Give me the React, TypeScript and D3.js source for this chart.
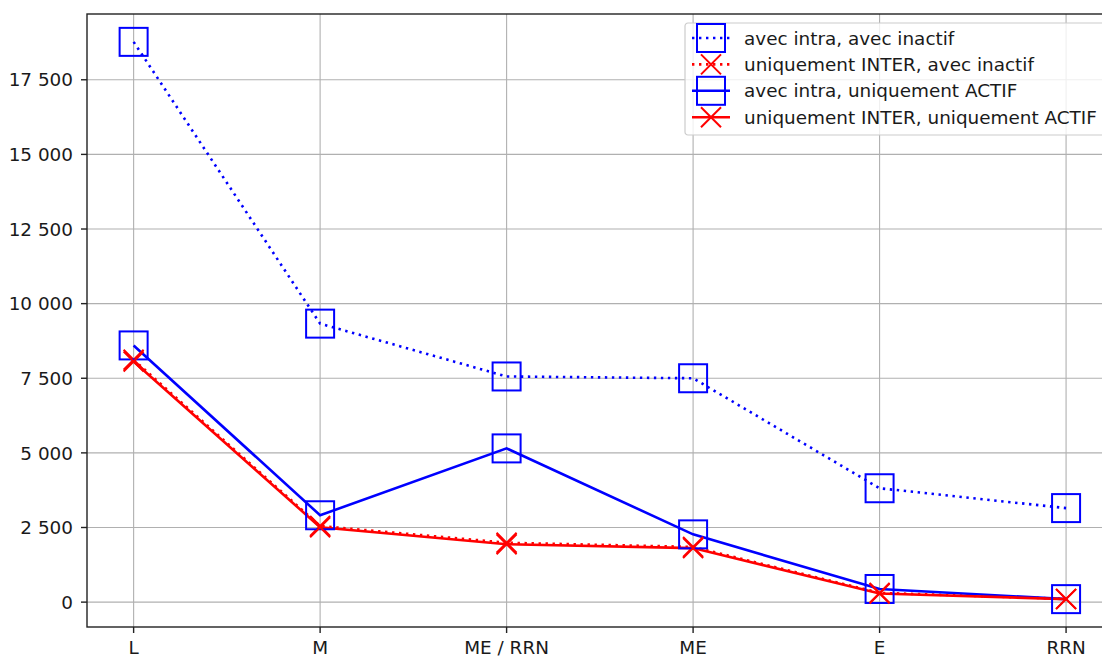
import { useEffect, useRef } from 'react'
import * as d3 from 'd3'

// categories on the x axis
const categories = ['L', 'M', 'ME / RRN', 'ME', 'E', 'RRN']

// values
const intraInactif = [18770, 9330, 7560, 7500, 3815, 3150]
const interInactif = [8120, 2550, 1990, 1850, 310, 110]
const intraActif = [8600, 2910, 5150, 2270, 440, 100]
const interActif = [8060, 2510, 1940, 1810, 290, 100]

const yTicks = [0, 2500, 5000, 7500, 10000, 12500, 15000, 17500]

const seriesList = [
  { label: 'avec intra, avec inactif', values: intraInactif, color: '#0000ff', dotted: true, marker: 'square' },
  { label: 'uniquement INTER, avec inactif', values: interInactif, color: '#ff0000', dotted: true, marker: 'x' },
  { label: 'avec intra, uniquement ACTIF', values: intraActif, color: '#0000ff', dotted: false, marker: 'square' },
  { label: 'uniquement INTER, uniquement ACTIF', values: interActif, color: '#ff0000', dotted: false, marker: 'x' },
]

const W = 1102
const H = 657

const App = () => {
  const svgRef = useRef<SVGSVGElement>(null)

  useEffect(() => {
    const svg = d3.select(svgRef.current)
    svg.selectAll('*').remove()

    const margin = { top: 14, left: 87, bottom: 627 }
    const font = 'DejaVu Sans, sans-serif'
    const fs = '18.4px'

    // x: index scale with matplotlib-like 0.25 padding
    const n = categories.length
    const xi = d3.scaleLinear().domain([-0.25, n - 1 + 0.25]).range([margin.left, 1112.7])
    const x = (i: number) => xi(i)

    const all = [...intraInactif, ...interInactif, ...intraActif, ...interActif]
    const lo = d3.min(all) as number
    const hi = d3.max(all) as number
    const pad = (hi - lo) * 0.05
    const y = d3.scaleLinear().domain([lo - pad, hi + pad]).range([margin.bottom, margin.top])

    const right = xi(n - 1 + 0.25)

    // grid
    const grid = svg.append('g')
    grid.selectAll('.gy').data(yTicks).enter().append('line')
      .attr('x1', margin.left).attr('x2', right)
      .attr('y1', (d) => y(d)).attr('y2', (d) => y(d))
      .attr('stroke', '#b0b0b0').attr('stroke-width', 1.1)
    grid.selectAll('.gx').data(categories).enter().append('line')
      .attr('x1', (_, i) => x(i)).attr('x2', (_, i) => x(i))
      .attr('y1', margin.top).attr('y2', margin.bottom)
      .attr('stroke', '#b0b0b0').attr('stroke-width', 1.1)

    // lines
    const line = d3.line<number>().x((_, i) => x(i)).y((d) => y(d))
    seriesList.forEach((s) => {
      svg.append('path')
        .attr('d', line(s.values))
        .attr('fill', 'none')
        .attr('stroke', s.color)
        .attr('stroke-width', 2.6)
        .attr('stroke-dasharray', s.dotted ? '2.4 4.6' : null)
    })

    // markers
    const half = 14
    const drawMarker = (g: any, kind: string, cx: number, cy: number, color: string) => {
      if (kind === 'square') {
        g.append('rect')
          .attr('x', cx - half).attr('y', cy - half)
          .attr('width', half * 2).attr('height', half * 2)
          .attr('fill', 'none').attr('stroke', color).attr('stroke-width', 2)
      } else {
        const h = 10
        g.append('path')
          .attr('d', `M${cx - h},${cy - h}L${cx + h},${cy + h}M${cx - h},${cy + h}L${cx + h},${cy - h}`)
          .attr('fill', 'none').attr('stroke', color).attr('stroke-width', 2)
      }
    }
    seriesList.forEach((s) => {
      const g = svg.append('g')
      s.values.forEach((v, i) => drawMarker(g, s.marker, x(i), y(v), s.color))
    })

    // spines
    svg.append('rect')
      .attr('x', margin.left).attr('y', margin.top)
      .attr('width', right - margin.left).attr('height', margin.bottom - margin.top)
      .attr('fill', 'none').attr('stroke', '#222').attr('stroke-width', 1.4)

    // y axis
    const fmt = d3.formatLocale({ decimal: ',', thousands: '\u00a0', grouping: [3], currency: ['', '€'] }).format(',d')
    const yAxis = svg.append('g')
    yTicks.forEach((t) => {
      yAxis.append('line')
        .attr('x1', margin.left - 6).attr('x2', margin.left)
        .attr('y1', y(t)).attr('y2', y(t))
        .attr('stroke', '#222').attr('stroke-width', 1.4)
      yAxis.append('text')
        .attr('x', margin.left - 14).attr('y', y(t))
        .attr('dy', '0.36em')
        .attr('text-anchor', 'end')
        .style('font-family', font).style('font-size', fs).style('fill', '#1a1a1a')
        .text(fmt(t))
    })

    // x axis
    const xAxis = svg.append('g')
    categories.forEach((c, i) => {
      xAxis.append('line')
        .attr('x1', x(i)).attr('x2', x(i))
        .attr('y1', margin.bottom).attr('y2', margin.bottom + 6)
        .attr('stroke', '#222').attr('stroke-width', 1.4)
      xAxis.append('text')
        .attr('x', x(i)).attr('y', 654)
        .attr('text-anchor', 'middle')
        .style('font-family', font).style('font-size', fs).style('fill', '#1a1a1a')
        .text(c)
    })

    // legend
    const lg = svg.append('g').attr('transform', 'translate(685,23)')
    lg.append('rect')
      .attr('width', 430).attr('height', 112).attr('rx', 3)
      .attr('fill', 'white').attr('fill-opacity', 0.8)
      .attr('stroke', '#cccccc').attr('stroke-width', 1.2)
    seriesList.forEach((s, i) => {
      const cy = 15 + i * 26.4
      lg.append('line')
        .attr('x1', 7).attr('x2', 45).attr('y1', cy).attr('y2', cy)
        .attr('stroke', s.color).attr('stroke-width', 2.6)
        .attr('stroke-dasharray', s.dotted ? '2.4 4.6' : null)
      drawMarker(lg, s.marker, 26, cy, s.color)
      lg.append('text')
        .attr('x', 59).attr('y', cy).attr('dy', '0.36em')
        .style('font-family', font).style('font-size', fs).style('fill', '#1a1a1a')
        .text(s.label)
    })
  }, [])

  return (
    <div style={{ position: 'absolute', left: 0, top: 0, width: W, height: H, overflow: 'hidden', background: 'white' }}>
      <svg ref={svgRef} width={W} height={H}></svg>
    </div>
  )
}

export default App
